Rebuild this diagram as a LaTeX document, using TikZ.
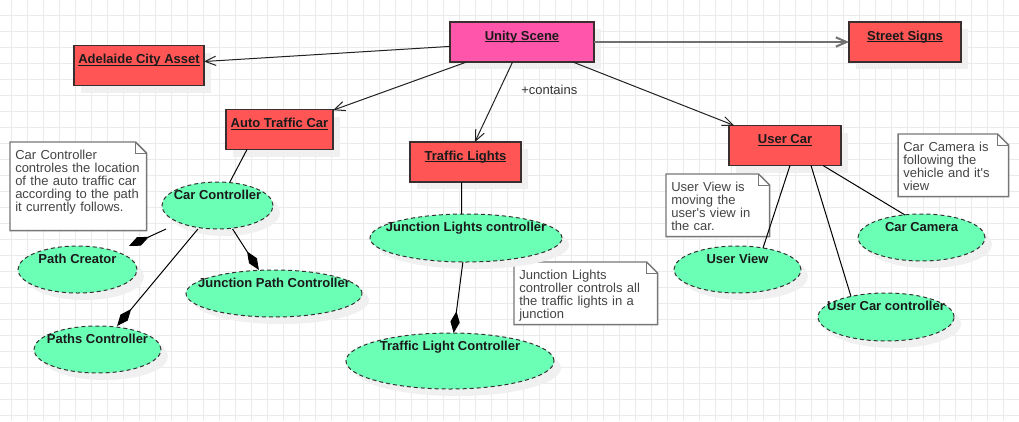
\documentclass[tikz,border=0pt]{standalone}
\usepackage{fontspec}
\setmainfont{Liberation Sans}
\usetikzlibrary{arrows.meta,shapes.geometric,shadows,calc,fit}
\pgfdeclarelayer{gridlayer}
\pgfdeclarelayer{bglayer}
\pgfsetlayers{gridlayer,bglayer,main}
\definecolor{gridc}{HTML}{EBEBEB}
\definecolor{redc}{HTML}{FF5555}
\definecolor{pinkc}{HTML}{FF55AA}
\definecolor{greenc}{HTML}{6BFFB6}
\definecolor{boxline}{HTML}{3A2E2E}
\definecolor{ellline}{HTML}{333333}
\definecolor{shadowc}{HTML}{F0F0F0}
\definecolor{textc}{HTML}{1A1A1A}
\definecolor{notetext}{HTML}{444444}
\definecolor{noteline}{HTML}{777777}
\definecolor{linec}{HTML}{222222}
\definecolor{thickline}{HTML}{707070}
\newcommand\myul[1]{\setbox0=\hbox{#1}\rlap{\rule[-1.6pt]{\wd0}{0.8pt}}\box0}
\begin{document}
\begin{tikzpicture}[x=0.75pt,y=-0.75pt,
  shad/.style={drop shadow={shadow xshift=5.25pt, shadow yshift=-5.25pt, fill=shadowc, opacity=1}},
  box/.style={rectangle, draw=boxline, line width=1.1pt, fill=redc, minimum height=30pt, inner sep=0pt, outer sep=0pt, shad},
  title/.style={anchor=base, label distance=-13.5pt, font=\bfseries\fontsize{9.75pt}{11pt}\selectfont, text=textc, inner sep=0pt},
  ell/.style={ellipse, draw=ellline, dash pattern=on 3pt off 2.25pt, line width=0.75pt, fill=greenc, inner sep=0pt, outer sep=0pt, shad},
  etitle/.style={anchor=base, label distance=-13.1pt, font=\bfseries\fontsize{9.75pt}{11pt}\selectfont, text=textc, inner sep=0pt},
  bbox/.style={rectangle, inner sep=0pt, outer sep=0pt},
  note/.style={anchor=north west, align=left, inner xsep=3.75pt, inner ysep=5.25pt, text height=7.5pt, font=\fontsize{9.75pt}{9.75pt}\selectfont, text=notetext},
  noteedge/.style={draw=noteline, line width=1.1pt, fill=white, line join=miter},
  assoc/.style={draw=linec, line width=0.75pt, -{Straight Barb[length=8pt,width=7pt]}},
  plain/.style={draw=black, line width=0.75pt},
  comp/.style={draw=black, line width=0.75pt, -{Diamond[length=16.5pt,width=7pt]}},
  lbl/.style={font=\fontsize{9.75pt}{11pt}\selectfont, text=ellline, inner sep=0pt}
]
\useasboundingbox (0,0) rectangle (1019,421);
\begin{pgfonlayer}{gridlayer}
  \fill[white] (0,0) rectangle (1019,421);
  \foreach \gx in {11,27,...,1019} \draw[gridc, line width=0.75pt] (\gx,0) -- (\gx,421);
  \foreach \gy in {15,31,...,421} \draw[gridc, line width=0.75pt] (0,\gy) -- (1019,\gy);
\end{pgfonlayer}

% boxes
\node[box, fill=pinkc, minimum width=108pt, label={[title]north:{\myul{Unity Scene}}}] (unity) at (522,42) {};
\node[box, minimum width=97.5pt, label={[title]north:{\myul{Adelaide City Asset}}}] (adel) at (139,65.5) {};
\node[box, minimum width=84pt, label={[title]north:{\myul{Street Signs}}}] (signs) at (905,42) {};
\node[box, minimum width=80.25pt, label={[title]north:{\myul{Auto Traffic Car}}}] (atc) at (279.5,129.5) {};
\node[box, minimum width=83.25pt, label={[title]north:{\myul{Traffic Lights}}}] (tl) at (465.5,162) {};
\node[box, minimum width=84pt, label={[title]north:{\myul{User Car}}}] (uc) at (785,145.5) {};

% ellipses
\node[ell, minimum width=83.25pt, minimum height=35.25pt, label={[etitle]north:{Car Controller}}] (cc) at (217.5,205.5) {};
\node[ell, minimum width=89.25pt, minimum height=35.25pt, label={[etitle]north:{Path Creator}}] (pcr) at (77.5,269.5) {};
\node[ell, minimum width=132pt, minimum height=35.25pt, label={[etitle]north:{Junction Path Controller}}] (jpc) at (274,293.5) {};
\node[ell, minimum width=95.25pt, minimum height=35.25pt, label={[etitle]north:{Paths Controller}}] (psc) at (97.5,349.5) {};
\node[ell, minimum width=144pt, minimum height=36pt, label={[etitle]north:{Junction Lights controller}}] (jlc) at (466,238) {};
\node[ell, minimum width=156pt, minimum height=42pt, label={[etitle]north:{Traffic Light Controller}}] (tlc) at (450,361) {};
\node[ell, minimum width=95.25pt, minimum height=35.25pt, label={[etitle]north:{User View}}] (uv) at (737.5,269.5) {};
\node[ell, minimum width=95.25pt, minimum height=35.25pt, label={[etitle]north:{Car Camera}}] (cam) at (921.5,237.5) {};
\node[ell, minimum width=102pt, minimum height=36pt, label={[etitle]north:{User Car controller}}] (ucc) at (886,317) {};

% bounding boxes of ellipses (used as connector ends)
\node[bbox, fit=(cc.north)(cc.south)(cc.east)(cc.west)] (ccB) {};
\node[bbox, fit=(pcr.north)(pcr.south)(pcr.east)(pcr.west)] (pcrB) {};
\node[bbox, fit=(jpc.north)(jpc.south)(jpc.east)(jpc.west)] (jpcB) {};
\node[bbox, fit=(psc.north)(psc.south)(psc.east)(psc.west)] (pscB) {};
\node[bbox, fit=(jlc.north)(jlc.south)(jlc.east)(jlc.west)] (jlcB) {};
\node[bbox, fit=(tlc.north)(tlc.south)(tlc.east)(tlc.west)] (tlcB) {};

% notes
\node[note, text width=94.5pt, text depth=48pt] (n1) at (10,142) {Car Controller\\controles the location\\of the auto traffic car\\according to the path\\it currently follows.};
\node[note, text width=69.75pt, text depth=28.5pt] (n2) at (666,174) {User View is\\moving the\\user\textquotesingle s view in\\the car.};
\node[note, text width=75pt, text depth=28.5pt] (n3) at (898,134) {Car Camera is\\following the\\vehicle and it\textquotesingle s\\view};
\node[note, text width=99.75pt, text depth=28.5pt] (n4) at (514,262) {Junction Lights\\controller controls all\\the traffic lights in a\\junction};
\begin{pgfonlayer}{bglayer}
\foreach \n in {n1,n2,n3,n4}{
  \draw[noteedge] (\n.north west) -- ($(\n.north east)+(-11,0)$) -- ($(\n.north east)+(0,11)$) -- (\n.south east) -- (\n.south west) -- cycle;
  \draw[draw=noteline, line width=0.75pt] ($(\n.north east)+(-11,0)$) -- ($(\n.north east)+(-11,11)$) -- ($(\n.north east)+(0,11)$);
}
\end{pgfonlayer}

% label
\node[lbl, anchor=base west] (contains) at (521,94) {+contains};

% connectors from Unity Scene
\draw[assoc] (unity) -- (adel);
\draw[assoc, draw=thickline, line width=1.5pt] (unity) -- (signs);
\draw[assoc] (unity) -- (atc);
\draw[assoc] (unity) -- (tl);
\draw[assoc] (unity) -- (uc);

% plain links
\draw[plain] ($(atc.south)+(-32.5,0)$) -- (ccB);
\draw[plain] ($(tl.south)+(-4,0)$) -- ($(jlc.north)+(-4.3,0)$);
\draw[plain] ($(uc.south)+(5,0)$) -- ($(uv.north)+(25.5,2)$);
\draw[plain] ($(uc.south)+(26,0)$) -- ($(ucc.north)+(-35,3.5)$);
\draw[plain] ($(uc.south)+(38,0)$) -- ($(cam.north)+(-16.5,1)$);

% composition links
\draw[comp] (ccB) -- (pcrB);
\draw[comp] (ccB) -- (jpcB);
\draw[comp] (ccB) -- (pscB);
\draw[comp] (jlcB) -- (tlcB);
\end{tikzpicture}
\end{document}
